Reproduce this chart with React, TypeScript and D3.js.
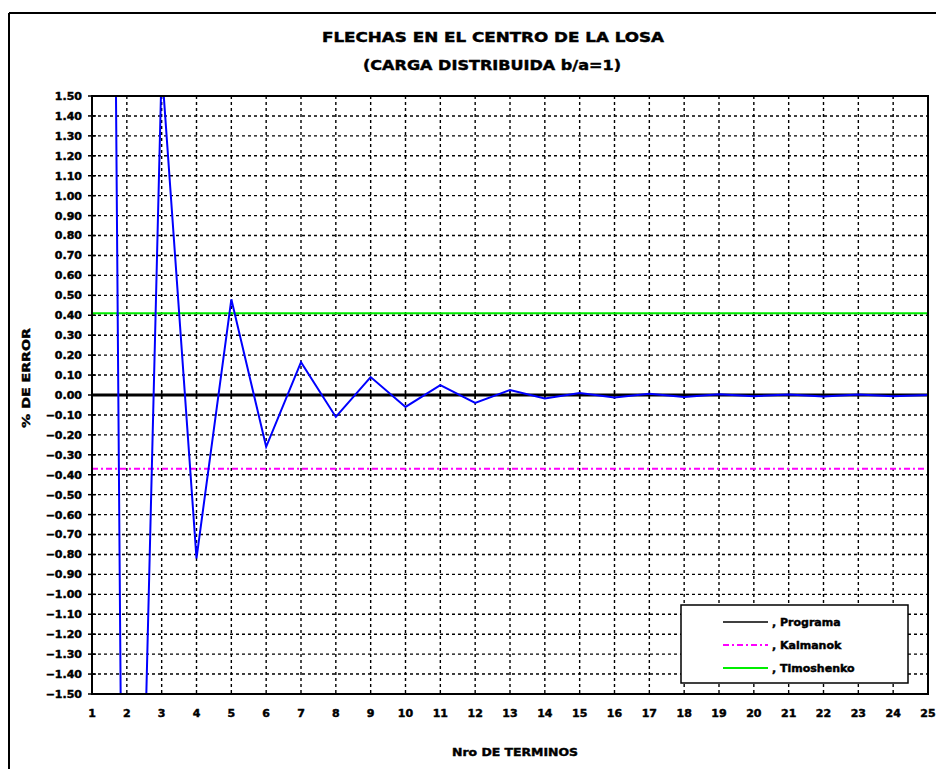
import React from 'react';
import * as d3 from 'd3';

// Number of series terms (category axis)
const terminos = [1, 2, 3, 4, 5, 6, 7, 8, 9, 10, 11, 12, 13, 14, 15, 16, 17, 18, 19, 20, 21, 22, 23, 24, 25];

// % error of the program's deflection versus number of terms
const errorPrograma = [17, -5.5, 1.65, -0.82, 0.48, -0.26, 0.165, -0.11, 0.09, -0.06, 0.05, -0.04, 0.025, -0.018, 0.01, -0.012, 0.006, -0.01, 0.004, -0.006, 0.003, -0.008, 0.002, -0.006, 0.0];

// Reference solutions (constant % error)
const kalmanok = [-0.37, -0.37, -0.37, -0.37, -0.37, -0.37, -0.37, -0.37, -0.37, -0.37, -0.37, -0.37, -0.37, -0.37, -0.37, -0.37, -0.37, -0.37, -0.37, -0.37, -0.37, -0.37, -0.37, -0.37, -0.37];
const timoshenko = [0.41, 0.41, 0.41, 0.41, 0.41, 0.41, 0.41, 0.41, 0.41, 0.41, 0.41, 0.41, 0.41, 0.41, 0.41, 0.41, 0.41, 0.41, 0.41, 0.41, 0.41, 0.41, 0.41, 0.41, 0.41];

const yTickValues = [1.5, 1.4, 1.3, 1.2, 1.1, 1.0, 0.9, 0.8, 0.7, 0.6, 0.5, 0.4, 0.3, 0.2, 0.1, 0.0, -0.1, -0.2, -0.3, -0.4, -0.5, -0.6, -0.7, -0.8, -0.9, -1.0, -1.1, -1.2, -1.3, -1.4, -1.5];

const legendNames = [', Programa', ', Kalmanok', ', Timoshenko'];

const titleLine1 = 'FLECHAS EN EL CENTRO DE LA LOSA';
const titleLine2 = '(CARGA DISTRIBUIDA b/a=1)';
const xTitle = 'Nro DE TERMINOS';
const yTitle = '% DE ERROR';

const W = 936;
const H = 769;
const plot = { left: 92, right: 928, top: 96, bottom: 694 };
const FONT = '"DejaVu Sans", sans-serif';
const HEAVY = { stroke: '#000', strokeWidth: 0.45 };

export default function App() {
  const x = d3.scaleLinear().domain([1, 25]).range([plot.left, plot.right]);
  const y = d3.scaleLinear().domain([-1.5, 1.5]).range([plot.bottom, plot.top]);

  const line = d3
    .line<number>()
    .x((_, i) => x(terminos[i]))
    .y((d) => y(d));

  const gridY = yTickValues.filter((v) => Math.abs(v) < 1.45 && Math.abs(v) > 0.001);
  const gridX = terminos.filter((t) => t > 1 && t < 25);

  const legendX0 = 681;
  const legendY0 = 605;
  const legendRows = [
    { y: 622, color: '#000000', dash: undefined as string | undefined, width: 1.5 },
    { y: 645, color: '#ff00ff', dash: '6 3 2 3', width: 2 },
    { y: 668, color: '#00ee00', dash: undefined, width: 2 },
  ];

  return (
    <svg
      width={W}
      height={H}
      style={{ position: 'absolute', left: 0, top: 0, background: '#fff' }}
      fontFamily={FONT}
    >
      <defs>
        <clipPath id="plotClip">
          <rect x={plot.left} y={plot.top} width={plot.right - plot.left} height={plot.bottom - plot.top} />
        </clipPath>
      </defs>
      <rect x={0} y={0} width={W} height={H} fill="#fff" />

      {/* outer chart frame */}
      <line x1={9} y1={13} x2={W} y2={13} stroke="#000" strokeWidth={2} />
      <line x1={9} y1={13} x2={9} y2={H} stroke="#000" strokeWidth={2} />

      {/* title */}
      <text x={493} y={42} textAnchor="middle" fontSize={14} fontWeight="bold" textLength={342} lengthAdjust="spacingAndGlyphs" {...HEAVY}>
        {titleLine1}
      </text>
      <text x={492} y={70} textAnchor="middle" fontSize={14} fontWeight="bold" textLength={258} lengthAdjust="spacingAndGlyphs" {...HEAVY}>
        {titleLine2}
      </text>

      {/* grid */}
      <g stroke="#000" strokeWidth={1.4} strokeDasharray="3 3">
        {gridY.map((v) => (
          <line key={'gy' + v} x1={plot.left} x2={plot.right} y1={y(v)} y2={y(v)} />
        ))}
        {gridX.map((t) => (
          <line key={'gx' + t} x1={x(t)} x2={x(t)} y1={plot.top} y2={plot.bottom} />
        ))}
      </g>

      {/* y axis ticks and labels */}
      <g>
        {yTickValues.map((v) => (
          <g key={'yt' + v}>
            <line x1={88} x2={96} y1={y(v)} y2={y(v)} stroke="#000" strokeWidth={1.5} />
            <text x={82} y={y(v)} dy="0.36em" textAnchor="end" fontSize={11} fontWeight="bold" {...HEAVY}>
              {d3.format('.2f')(v)}
            </text>
          </g>
        ))}
      </g>

      {/* x tick labels */}
      {terminos.map((t) => (
        <text key={'xt' + t} x={x(t)} y={717} textAnchor="middle" fontSize={11} fontWeight="bold" {...HEAVY}>
          {t}
        </text>
      ))}

      {/* series */}
      <g clipPath="url(#plotClip)" fill="none">
        <path d={line(timoshenko) || ''} stroke="#00ee00" strokeWidth={2} />
        <path d={line(kalmanok) || ''} stroke="#ff00ff" strokeWidth={2} strokeDasharray="6 3 2 3" />
        <line x1={plot.left} x2={plot.right} y1={y(0)} y2={y(0)} stroke="#000" strokeWidth={3} />
        {terminos.map((t) => (
          <line key={'zt' + t} x1={x(t)} x2={x(t)} y1={y(0) - 4} y2={y(0) + 4} stroke="#000" strokeWidth={1.5} />
        ))}
        <path d={line(errorPrograma) || ''} stroke="#0000ff" strokeWidth={2} strokeLinejoin="miter" />
      </g>

      {/* plot border */}
      <rect
        x={plot.left}
        y={plot.top}
        width={plot.right - plot.left}
        height={plot.bottom - plot.top}
        fill="none"
        stroke="#000"
        strokeWidth={2}
      />

      {/* axis titles */}
      <text x={515} y={756} textAnchor="middle" fontSize={11} fontWeight="bold" textLength={126} lengthAdjust="spacingAndGlyphs" {...HEAVY}>
        {xTitle}
      </text>
      <text
        transform={`translate(30, 378) rotate(-90)`}
        textAnchor="middle"
        fontSize={11}
        fontWeight="bold"
        textLength={100}
        lengthAdjust="spacingAndGlyphs"
        {...HEAVY}
      >
        {yTitle}
      </text>

      {/* legend */}
      <rect x={legendX0} y={legendY0} width={227} height={78} fill="#fff" stroke="#000" strokeWidth={1.5} />
      {legendRows.map((r, i) => (
        <g key={'lg' + i}>
          <line x1={723} x2={768} y1={r.y} y2={r.y} stroke={r.color} strokeWidth={r.width} strokeDasharray={r.dash} />
          <text x={772} y={r.y} dy="0.36em" fontSize={11} fontWeight="bold" {...HEAVY}>
            {legendNames[i]}
          </text>
        </g>
      ))}
    </svg>
  );
}
